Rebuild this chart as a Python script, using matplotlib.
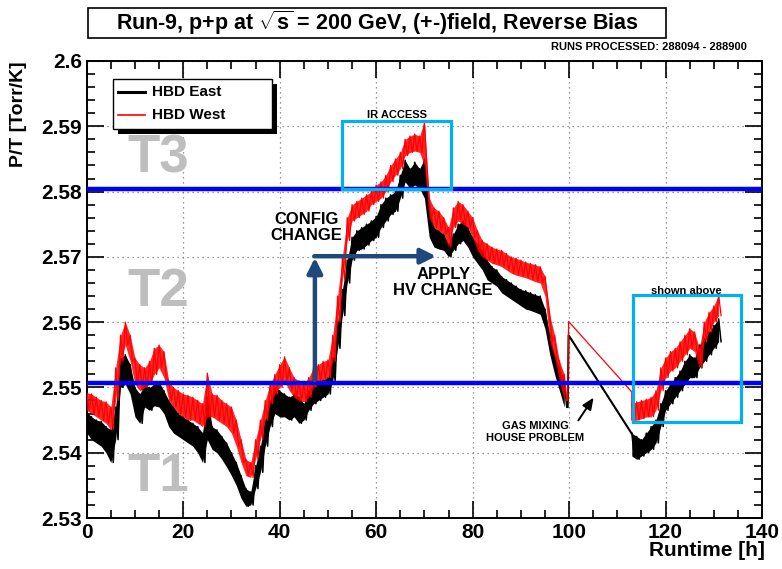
import matplotlib
matplotlib.use("Agg")
import matplotlib.pyplot as plt
from matplotlib import font_manager
from matplotlib.patches import Rectangle
from matplotlib.ticker import MultipleLocator

plt.rcParams['font.family'] = ['Liberation Sans', 'DejaVu Sans']
plt.rcParams['mathtext.fontset'] = 'custom'
plt.rcParams['mathtext.rm'] = 'Liberation Sans:bold'
plt.rcParams['mathtext.it'] = 'Liberation Sans:bold'

# ---- data: upper / lower edge of each noisy band (hours, Torr/K)
t_a = list(range(0, 100))
east_hi_a = [2.5462, 2.5455, 2.5450, 2.5448, 2.5440, 2.5435, 2.5470, 2.5545, 2.5550, 2.5535,
             2.5500, 2.5490, 2.5505, 2.5500, 2.5505, 2.5508, 2.5495, 2.5480, 2.5470, 2.5460,
             2.5455, 2.5450, 2.5445, 2.5440, 2.5430, 2.5485, 2.5440, 2.5435, 2.5425, 2.5415,
             2.5400, 2.5385, 2.5365, 2.5345, 2.5340, 2.5380, 2.5410, 2.5450, 2.5480, 2.5500,
             2.5495, 2.5490, 2.5485, 2.5490, 2.5485, 2.5475, 2.5495, 2.5505, 2.5510, 2.5512,
             2.5515, 2.5545, 2.5600, 2.5650, 2.5695, 2.5730, 2.5740, 2.5745, 2.5750, 2.5755,
             2.5762, 2.5780, 2.5790, 2.5795, 2.5800, 2.5825, 2.5848, 2.5835, 2.5845, 2.5835,
             2.5850, 2.5775, 2.5745, 2.5740, 2.5735, 2.5720, 2.5735, 2.5750, 2.5755, 2.5745,
             2.5730, 2.5720, 2.5710, 2.5695, 2.5685, 2.5680, 2.5670, 2.5665, 2.5660, 2.5655,
             2.5650, 2.5648, 2.5645, 2.5642, 2.5640, 2.5620, 2.5580, 2.5550, 2.5530, 2.5510]
east_lo_a = [2.5430, 2.5420, 2.5415, 2.5410, 2.5400, 2.5385, 2.5420, 2.5500, 2.5505, 2.5490,
             2.5455, 2.5445, 2.5470, 2.5465, 2.5472, 2.5470, 2.5460, 2.5440, 2.5430, 2.5425,
             2.5420, 2.5415, 2.5410, 2.5400, 2.5385, 2.5420, 2.5405, 2.5400, 2.5390, 2.5378,
             2.5365, 2.5350, 2.5330, 2.5318, 2.5320, 2.5345, 2.5370, 2.5410, 2.5440, 2.5460,
             2.5455, 2.5455, 2.5450, 2.5455, 2.5445, 2.5450, 2.5465, 2.5475, 2.5480, 2.5485,
             2.5490, 2.5510, 2.5560, 2.5610, 2.5660, 2.5695, 2.5710, 2.5712, 2.5718, 2.5725,
             2.5730, 2.5745, 2.5755, 2.5765, 2.5770, 2.5790, 2.5815, 2.5805, 2.5810, 2.5805,
             2.5790, 2.5730, 2.5715, 2.5712, 2.5710, 2.5700, 2.5710, 2.5720, 2.5725, 2.5715,
             2.5700, 2.5690, 2.5680, 2.5665, 2.5660, 2.5655, 2.5645, 2.5640, 2.5635, 2.5630,
             2.5625, 2.5620, 2.5618, 2.5615, 2.5612, 2.5590, 2.5550, 2.5520, 2.5495, 2.5470]
west_hi_a = [2.5492, 2.5490, 2.5485, 2.5480, 2.5478, 2.5470, 2.5530, 2.5580, 2.5600, 2.5580,
             2.5545, 2.5535, 2.5530, 2.5540, 2.5560, 2.5565, 2.5555, 2.5510, 2.5500, 2.5495,
             2.5490, 2.5488, 2.5485, 2.5480, 2.5475, 2.5522, 2.5490, 2.5488, 2.5480, 2.5475,
             2.5470, 2.5450, 2.5420, 2.5390, 2.5385, 2.5420, 2.5450, 2.5480, 2.5505, 2.5520,
             2.5535, 2.5547, 2.5530, 2.5515, 2.5510, 2.5505, 2.5515, 2.5530, 2.5535, 2.5540,
             2.5542, 2.5580, 2.5640, 2.5700, 2.5760, 2.5780, 2.5785, 2.5790, 2.5795, 2.5800,
             2.5810, 2.5815, 2.5825, 2.5840, 2.5850, 2.5860, 2.5880, 2.5885, 2.5888, 2.5885,
             2.5908, 2.5790, 2.5775, 2.5770, 2.5760, 2.5745, 2.5775, 2.5785, 2.5780, 2.5770,
             2.5760, 2.5740, 2.5725, 2.5720, 2.5715, 2.5712, 2.5710, 2.5705, 2.5700, 2.5698,
             2.5695, 2.5692, 2.5690, 2.5688, 2.5685, 2.5670, 2.5610, 2.5580, 2.5540, 2.5520]
west_lo_a = [2.5465, 2.5460, 2.5455, 2.5450, 2.5445, 2.5435, 2.5480, 2.5540, 2.5565, 2.5540,
             2.5505, 2.5495, 2.5500, 2.5505, 2.5520, 2.5530, 2.5515, 2.5480, 2.5470, 2.5460,
             2.5455, 2.5450, 2.5450, 2.5445, 2.5440, 2.5455, 2.5455, 2.5450, 2.5445, 2.5440,
             2.5430, 2.5410, 2.5385, 2.5365, 2.5362, 2.5390, 2.5420, 2.5450, 2.5475, 2.5490,
             2.5500, 2.5510, 2.5495, 2.5485, 2.5480, 2.5478, 2.5485, 2.5500, 2.5510, 2.5512,
             2.5515, 2.5540, 2.5600, 2.5665, 2.5725, 2.5755, 2.5760, 2.5765, 2.5770, 2.5780,
             2.5785, 2.5790, 2.5800, 2.5815, 2.5825, 2.5835, 2.5855, 2.5860, 2.5862, 2.5860,
             2.5840, 2.5760, 2.5745, 2.5740, 2.5735, 2.5715, 2.5745, 2.5755, 2.5750, 2.5745,
             2.5730, 2.5710, 2.5700, 2.5695, 2.5690, 2.5688, 2.5685, 2.5680, 2.5675, 2.5672,
             2.5670, 2.5668, 2.5665, 2.5662, 2.5660, 2.5640, 2.5570, 2.5545, 2.5510, 2.5480]

t_b = list(range(113, 132))
east_hi_b = [2.5430, 2.5425, 2.5420, 2.5430, 2.5440, 2.5450, 2.5475, 2.5495, 2.5505, 2.5515,
             2.5525, 2.5540, 2.5550, 2.5545, 2.5565, 2.5575, 2.5585, 2.5595, 2.5605]
east_lo_b = [2.5395, 2.5390, 2.5395, 2.5400, 2.5405, 2.5415, 2.5440, 2.5465, 2.5475, 2.5485,
             2.5495, 2.5505, 2.5515, 2.5515, 2.5530, 2.5540, 2.5550, 2.5560, 2.5570]
west_hi_b = [2.5475, 2.5478, 2.5480, 2.5482, 2.5485, 2.5495, 2.5530, 2.5545, 2.5555, 2.5560,
             2.5570, 2.5580, 2.5590, 2.5585, 2.5560, 2.5600, 2.5615, 2.5625, 2.5642]
west_lo_b = [2.5448, 2.5450, 2.5452, 2.5455, 2.5455, 2.5465, 2.5495, 2.5515, 2.5525, 2.5530,
             2.5540, 2.5550, 2.5560, 2.5555, 2.5530, 2.5570, 2.5585, 2.5600, 2.5610]

# straight segments across the gas-mixing-house outage
east_gap_t = [99.7, 99.9, 113.0]
east_gap_v = [2.5470, 2.5580, 2.5429]
west_gap_t = [99.7, 99.9, 113.0, 113.0]
west_gap_v = [2.5480, 2.5601, 2.5493, 2.5450]

t_levels = [2.5804, 2.5507]   # T3/T2 and T2/T1 thresholds


def zigzag(t, hi, lo):
    xs, ys = [], []
    for ti, h, l in zip(t, hi, lo):
        xs += [ti, ti + 0.5]
        ys += [h, l]
    return xs, ys


names = {f.name for f in font_manager.fontManager.ttflist}
narrow = 'Liberation Sans Narrow' if 'Liberation Sans Narrow' in names else 'Liberation Sans'

fig = plt.figure(figsize=(7.82, 5.69), dpi=100)
ax = fig.add_axes([0.1109, 0.0896, 0.8636, 0.8032])

for t, hi, lo in [(t_a, east_hi_a, east_lo_a), (t_b, east_hi_b, east_lo_b)]:
    ax.fill_between(t, lo, hi, color='black', lw=0, zorder=3)
    xs, ys = zigzag(t, hi, lo)
    ax.plot(xs, ys, color='black', lw=1.1, zorder=3)
ax.plot(east_gap_t, east_gap_v, color='black', lw=1.5, zorder=3)
for t, hi, lo in [(t_a, west_hi_a, west_lo_a), (t_b, west_hi_b, west_lo_b)]:
    ax.fill_between(t, lo, hi, color='red', lw=0, alpha=0.85, zorder=4)
    xs, ys = zigzag(t, hi, lo)
    ax.plot(xs, ys, color='red', lw=0.9, zorder=4)
ax.plot(west_gap_t, west_gap_v, color='red', lw=0.9, zorder=4)

for lv in t_levels:
    ax.axhline(lv, color='#0000ff', lw=3.2, zorder=5)

# cyan boxes
ax.add_patch(Rectangle((52.9, 2.5804), 22.6, 0.0104, fill=False, ec='#00b0f0', lw=2.3, zorder=6))
ax.add_patch(Rectangle((113.3, 2.5447), 22.3, 0.0194, fill=False, ec='#00b0f0', lw=2.3, zorder=6))

# config change arrows
arr = dict(arrowstyle='-|>,head_length=0.9,head_width=0.45', color='#1f497d', lw=3.2)
ax.annotate('', xy=(47.3, 2.5703), xytext=(47.3, 2.5507), arrowprops=arr, zorder=6)
ax.annotate('', xy=(73.0, 2.5701), xytext=(46.6, 2.5701), arrowprops=arr, zorder=6)
ax.annotate('', xy=(105.4, 2.5488), xytext=(101.6, 2.5446),
            arrowprops=dict(arrowstyle='-|>,head_length=0.7,head_width=0.3', color='black', lw=1.4))

# gray tier labels
for lab, yv in [('T3', 2.5850), ('T2', 2.5646), ('T1', 2.5363)]:
    ax.text(14.8, yv, lab, fontsize=38, fontweight='bold', color='#bebebe',
            ha='center', va='center', zorder=2)

bold = dict(fontweight='bold', ha='center', va='center', zorder=7)
ax.text(45.5, 2.5745, 'CONFIG\nCHANGE', fontsize=12, linespacing=1.1, **bold)
ax.text(73.9, 2.5661, 'APPLY\nHV CHANGE', fontsize=12, linespacing=1.1, **bold)
ax.text(64.4, 2.5917, 'IR ACCESS', fontsize=8, **bold)
ax.text(124.4, 2.5648, 'shown above', fontsize=8, **bold)
ax.text(93.0, 2.5432, 'GAS MIXING\nHOUSE PROBLEM', fontsize=8, linespacing=1.2, **bold)

# ROOT-style legend box with solid shadow
ta = ax.transAxes
ax.add_patch(Rectangle((0.0463, 0.8403), 0.2355, 0.1094, transform=ta, fc='black', ec='none',
                       zorder=8))
ax.add_patch(Rectangle((0.0389, 0.8512), 0.2355, 0.1094, transform=ta, fc='white', ec='black',
                       lw=1.0, zorder=9))
for yy, col, lw, lab in [(0.9322, 'black', 2.2, 'HBD East'), (0.8818, 'red', 1.2, 'HBD West')]:
    ax.plot([0.0463, 0.0863], [yy, yy], color=col, lw=lw, transform=ta, zorder=10, clip_on=False)
    ax.text(0.0968, yy, lab, transform=ta, fontsize=11, fontweight='bold', ha='left',
            va='center', zorder=10)

ax.set_xlim(0, 140)
ax.set_ylim(2.53, 2.60)
ax.xaxis.set_major_locator(MultipleLocator(20))
ax.xaxis.set_minor_locator(MultipleLocator(5))
ax.yaxis.set_major_locator(MultipleLocator(0.01))
ax.yaxis.set_minor_locator(MultipleLocator(0.002))
ax.set_yticks([2.53, 2.54, 2.55, 2.56, 2.57, 2.58, 2.59, 2.6])
ax.set_yticklabels(['2.53', '2.54', '2.55', '2.56', '2.57', '2.58', '2.59', '2.6'])
ax.tick_params(which='both', direction='in', top=True, right=True, width=1.2)
ax.tick_params(which='major', length=12, labelsize=15)
ax.tick_params(which='minor', length=6)
for lab in ax.get_xticklabels() + ax.get_yticklabels():
    lab.set_fontweight('bold')
ax.grid(True, which='major', ls=(0, (1, 3)), color='#777777', lw=0.9)
for s in ax.spines.values():
    s.set_linewidth(1.4)

fig.text(0.024, 0.893, 'P/T [Torr/K]', rotation=90, ha='center', va='top',
         fontsize=14, fontweight='bold')
fig.text(0.978, 0.033, 'Runtime [h]', ha='right', va='center', fontsize=15, fontweight='bold')
fig.text(0.955, 0.917, 'RUNS PROCESSED: 288094 - 288900', ha='right', va='center',
         fontsize=8, fontweight='bold', family=narrow)

# title box
fig.patches.append(Rectangle((88 / 782, 1 - 37.5 / 569), 578 / 782, 30 / 569,
                             transform=fig.transFigure, fill=False, ec='black', lw=1.2))
fig.text(377 / 782, 1 - 23 / 569, r'Run-9, p+p at $\sqrt{s}$ = 200 GeV, (+-)field, Reverse Bias',
         ha='center', va='center', fontsize=15.5, fontweight='bold')

fig.savefig('out.png', dpi=100)
